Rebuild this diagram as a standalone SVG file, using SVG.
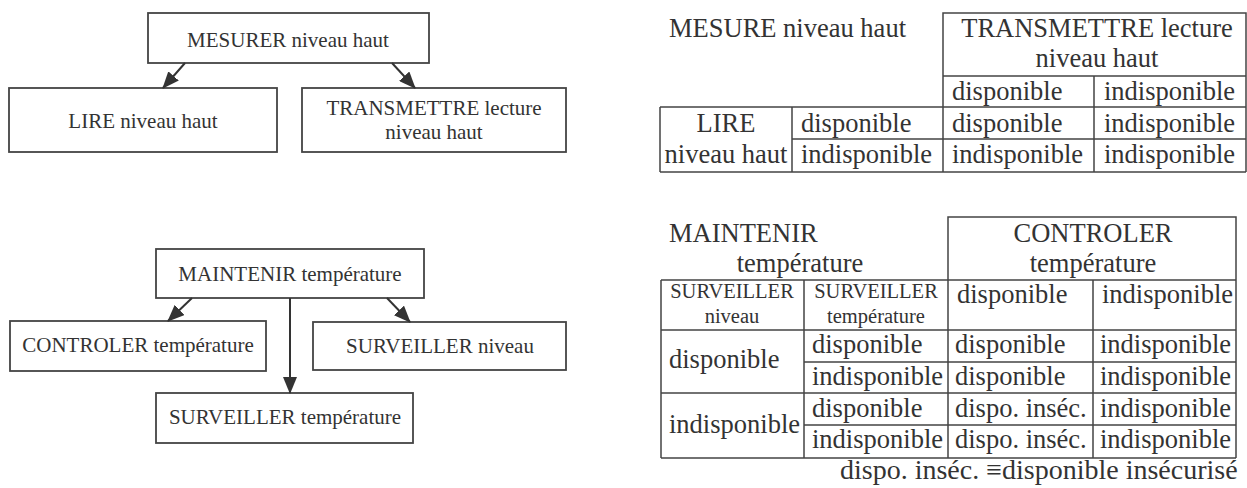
<svg xmlns="http://www.w3.org/2000/svg" width="1247" height="488" viewBox="0 0 1247 488">
<style>
text{font-family:"Liberation Serif","Times New Roman",serif;fill:#333}
.b{font-size:21px}
.t{font-size:26.5px}
.s{font-size:20.5px}
.f{font-size:28px}
.box{fill:none;stroke:#444;stroke-width:1.8}
.ln{stroke:#444;stroke-width:1.5;fill:none}
.c{text-anchor:middle}
.arr{stroke:#333;stroke-width:2;fill:none;marker-end:url(#ah)}
</style>
<defs>
<marker id="ah" markerWidth="17" markerHeight="14" refX="16" refY="7" orient="auto" markerUnits="userSpaceOnUse">
<path d="M0,0 L17,7 L0,14 Z" fill="#333"/>
</marker>
</defs>
<rect width="1247" height="488" fill="#fff"/>

<g id="n-mesurer"><rect class="box" x="148" y="13" width="281" height="50"/><text class="b c" x="288" y="47">MESURER niveau haut</text></g>
<g id="n-lire"><rect class="box" x="9" y="88" width="268" height="64"/><text class="b c" x="143" y="128">LIRE niveau haut</text></g>
<g id="n-transmettre"><rect class="box" x="302" y="88" width="264" height="64"/><text class="b c" x="434" y="115">TRANSMETTRE lecture</text><text class="b c" x="434" y="139">niveau haut</text></g>

<g id="n-maintenir"><rect class="box" x="156" y="249" width="268" height="49"/><text class="b c" x="290" y="281">MAINTENIR température</text></g>
<g id="n-controler"><rect class="box" x="10" y="321" width="256" height="50"/><text class="b c" x="138" y="352">CONTROLER température</text></g>
<g id="n-surv-niveau"><rect class="box" x="313" y="322" width="253" height="48"/><text class="b c" x="440" y="353">SURVEILLER niveau</text></g>
<g id="n-surv-temp"><rect class="box" x="156" y="393" width="257" height="50"/><text class="b c" x="285" y="424">SURVEILLER température</text></g>

<g id="connectors">
<line class="arr" x1="185" y1="63" x2="163" y2="88"/>
<line class="arr" x1="392" y1="63" x2="415" y2="88"/>
<line class="arr" x1="192" y1="298" x2="168" y2="321"/>
<line class="arr" x1="387" y1="298" x2="410" y2="322"/>
<line class="arr" x1="290" y1="298" x2="290" y2="393"/>
</g>

<g id="table1">
<path class="ln" d="M943,172 V13 H1246 V172 M943,76 H1246 M660,107 H1246 M792,139 H1246 M660,172 H1246 M660,107 V172 M792,107 V172 M1094,76 V172"/>
<text class="t" x="669" y="37">MESURE niveau haut</text>
<text class="t c" x="1097" y="37">TRANSMETTRE lecture</text>
<text class="t c" x="1097" y="67">niveau haut</text>
<text class="t" x="952" y="100">disponible</text>
<text class="t" x="1104" y="100">indisponible</text>
<text class="t c" x="726" y="132">LIRE</text>
<text class="t" x="801" y="132">disponible</text>
<text class="t" x="952" y="132">disponible</text>
<text class="t" x="1104" y="132">indisponible</text>
<text class="t c" x="726" y="163">niveau haut</text>
<text class="t" x="801" y="163">indisponible</text>
<text class="t" x="952" y="163">indisponible</text>
<text class="t" x="1104" y="163">indisponible</text>
</g>

<g id="table2">
<path class="ln" d="M948,280 V217 H1236 V458 M661,280 H1236 M661,330 H1236 M804,362 H1236 M661,393 H1236 M804,425 H1236 M661,458 H1236 M661,280 V458 M804,280 V458 M948,280 V458 M1093,280 V458"/>
<text class="t" x="669" y="242">MAINTENIR</text>
<text class="t c" x="800" y="272">température</text>
<text class="t c" x="1093" y="242">CONTROLER</text>
<text class="t c" x="1093" y="272">température</text>
<text class="s c" x="732" y="298">SURVEILLER</text>
<text class="s c" x="732" y="323">niveau</text>
<text class="s c" x="876" y="298">SURVEILLER</text>
<text class="s c" x="876" y="323">température</text>
<text class="t" x="957" y="303">disponible</text>
<text class="t" x="1102" y="303">indisponible</text>
<text class="t" x="669" y="368">disponible</text>
<text class="t" x="669" y="433">indisponible</text>
<text class="t" x="812" y="353">disponible</text>
<text class="t" x="812" y="385">indisponible</text>
<text class="t" x="812" y="417">disponible</text>
<text class="t" x="812" y="448">indisponible</text>
<text class="t" x="955" y="353">disponible</text>
<text class="t" x="955" y="385">disponible</text>
<text class="t" x="955" y="417">dispo. inséc.</text>
<text class="t" x="955" y="448">dispo. inséc.</text>
<text class="t" x="1100" y="353">indisponible</text>
<text class="t" x="1100" y="385">indisponible</text>
<text class="t" x="1100" y="417">indisponible</text>
<text class="t" x="1100" y="448">indisponible</text>
<text class="f" x="840" y="479">dispo. inséc. ≡disponible insécurisé</text>
</g>
</svg>
